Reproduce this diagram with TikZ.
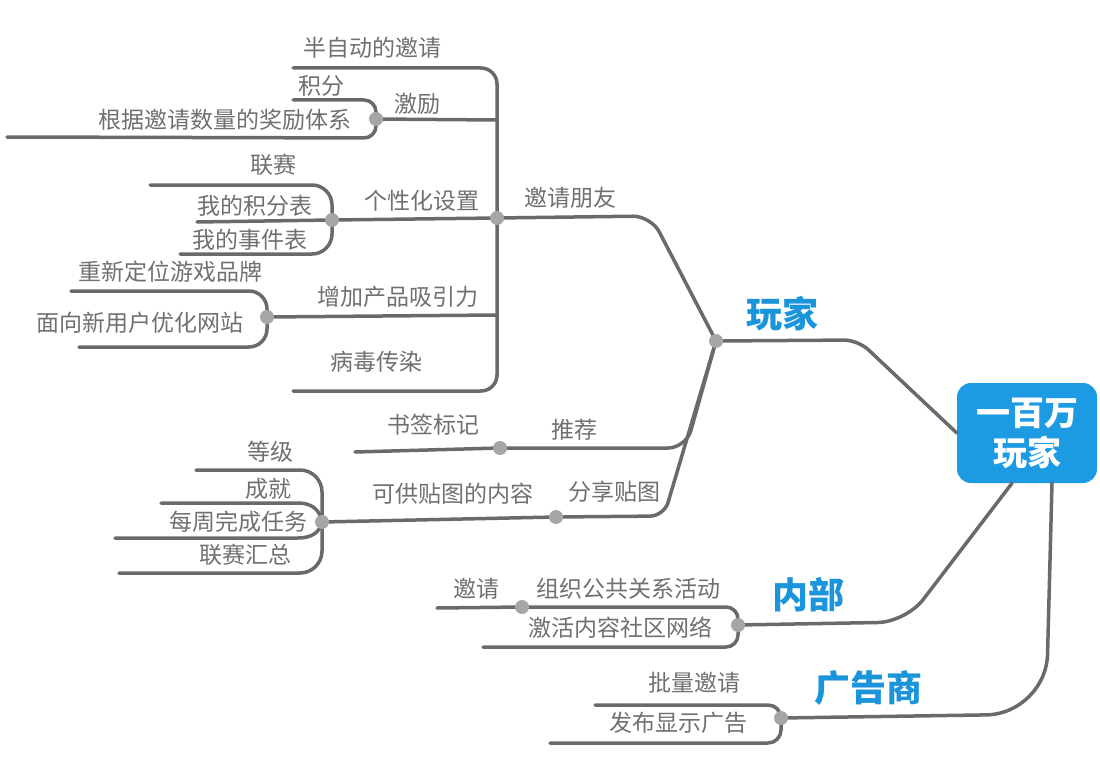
\documentclass[tikz,border=0pt]{standalone}
\usepackage{fontspec}
\newfontfamily\cjk{Noto Sans CJK SC}
\definecolor{linegray}{HTML}{6A6A6A}
\definecolor{txtgray}{HTML}{707070}
\definecolor{dotgray}{HTML}{A6A6A6}
\definecolor{mblue}{HTML}{1C9BE3}
\definecolor{lblue}{HTML}{1A94DA}
\begin{document}
\begin{tikzpicture}[x=1pt,y=-1pt,
  conn/.style={draw=linegray, line width=3.5pt, line cap=round, line join=round},
  lbl/.style={font=\cjk\fontsize{23}{26}\selectfont, text=txtgray, inner sep=0pt},
  dotn/.style={circle, fill=dotgray, minimum size=14pt, inner sep=0pt},
  cat/.style={font=\cjk\bfseries\fontsize{36}{40}\selectfont, text=lblue, inner sep=0pt},
  rootbox/.style={rounded corners=14pt, fill=mblue, text=white, align=center,
    font=\cjk\bfseries\fontsize{34}{40}\selectfont, minimum width=140pt, minimum height=100pt, inner sep=0pt}]
\useasboundingbox (0,0) rectangle (1100,757);
\fill[white] (0,0) rectangle (1100,757);

% ---- root
\node[rootbox] (R) at (1027,433) {一百万\\玩家};

% ---- junction coordinates
\coordinate (P) at (716,341);
\coordinate (Q) at (497,218);
\coordinate (J) at (376,119);
\coordinate (G) at (332,220);
\coordinate (A) at (267,317);
\coordinate (B) at (500,448);
\coordinate (S) at (556,517);
\coordinate (C) at (322,522);
\coordinate (N) at (738,625);
\coordinate (I) at (522,607);
\coordinate (D) at (781,718);

% ---- free ends
\coordinate (t1) at (293,68);
\coordinate (t2) at (293,391);
\coordinate (tj) at (497,120);
\coordinate (ta) at (497,315);
\coordinate (j1) at (293,100);
\coordinate (j2) at (7,137);
\coordinate (g1) at (150,185);
\coordinate (g2) at (197,222);
\coordinate (g3) at (180,254);
\coordinate (a1) at (71,291);
\coordinate (a2) at (79,347);
\coordinate (b1) at (355,452);
\coordinate (c1) at (196,470);
\coordinate (c2) at (161,503);
\coordinate (c3) at (115,538);
\coordinate (c4) at (119,573);
\coordinate (n1) at (437,608);
\coordinate (n2) at (483,647);
\coordinate (d1) at (595,705);
\coordinate (d2) at (550,743);

% ---- connectors from root
\draw[conn, rounded corners=14pt] (R.west) -- (858,340) -- (P);
\draw[conn, rounded corners=28pt] ([xshift=-15pt]R.south) -- (906,622) -- (N);
\draw[conn, rounded corners=60pt] ([xshift=25pt]R.south) -- (1046,714) -- (D);

% ---- player branches
\draw[conn, rounded corners=18pt] (P) -- (651,216) -- (Q);
\draw[conn, rounded corners=18pt] (P) -- (686,448) -- (B);
\draw[conn, rounded corners=14pt] (P) -- (664,516) -- (S);

% trunk of invite friends
\draw[conn, rounded corners=16pt] (t1) -- (497,68) -- (497,391) -- (t2);
\draw[conn] (J) -- (tj);
\draw[conn] (G) -- (Q);
\draw[conn] (A) -- (ta);

% brackets
\draw[conn, rounded corners=12pt] (j1) -- (376,100) -- (376,138) -- (j2);
\draw[conn, rounded corners=20pt] (g1) -- (332,185) -- (332,254) -- (g3);
\draw[conn] (g2) -- (G);
\draw[conn, rounded corners=18pt] (a1) -- (267,291) -- (267,347) -- (a2);
\draw[conn] (B) -- (b1);
\draw[conn] (S) -- (C);
\draw[conn, rounded corners=22pt] (c1) -- (322,470) -- (322,573) -- (c4);
\draw[conn] (c2) -- (298,503) .. controls (312,503) and (320,510) .. (C);
\draw[conn] (c3) -- (298,538) .. controls (312,538) and (320,532) .. (C);
\draw[conn, rounded corners=12pt] (I) -- (738,607) -- (738,647) -- (n2);
\draw[conn] (n1) -- (I);
\draw[conn, rounded corners=13pt] (d1) -- (781,705) -- (781,743) -- (d2);

% ---- dots
\foreach \p in {P,Q,J,G,A,B,S,C,N,I,D}
  \node[dotn] (\p dot) at (\p) {};

% ---- category labels
\node[cat] (lP) at (782,314) {玩家};
\node[cat] (lN) at (808,595) {内部};
\node[cat] (lD) at (868,688) {广告商};

% ---- text labels
\node[lbl] (x1) at (372,48) {半自动的邀请};
\node[lbl] (x2) at (321,86) {积分};
\node[lbl] (x3) at (417,104) {激励};
\node[lbl] (x4) at (225,120) {根据邀请数量的奖励体系};
\node[lbl] (x5) at (273,165) {联赛};
\node[lbl] (x6) at (422,201) {个性化设置};
\node[lbl] (x7) at (255,206) {我的积分表};
\node[lbl] (x8) at (250,240) {我的事件表};
\node[lbl] (x9) at (570,198) {邀请朋友};
\node[lbl] (x10) at (170,272) {重新定位游戏品牌};
\node[lbl] (x11) at (398,297) {增加产品吸引力};
\node[lbl] (x12) at (140,323) {面向新用户优化网站};
\node[lbl] (x13) at (376,362) {病毒传染};
\node[lbl] (x14) at (433,425) {书签标记};
\node[lbl] (x15) at (574,430) {推荐};
\node[lbl] (x16) at (270,452) {等级};
\node[lbl] (x17) at (268,489) {成就};
\node[lbl] (x18) at (453,494) {可供贴图的内容};
\node[lbl] (x19) at (614,492) {分享贴图};
\node[lbl] (x20) at (238,522) {每周完成任务};
\node[lbl] (x21) at (245,555) {联赛汇总};
\node[lbl] (x22) at (476,589) {邀请};
\node[lbl] (x23) at (628,589) {组织公共关系活动};
\node[lbl] (x24) at (620,628) {激活内容社区网络};
\node[lbl] (x25) at (694,683) {批量邀请};
\node[lbl] (x26) at (678,723) {发布显示广告};
\end{tikzpicture}
\end{document}
